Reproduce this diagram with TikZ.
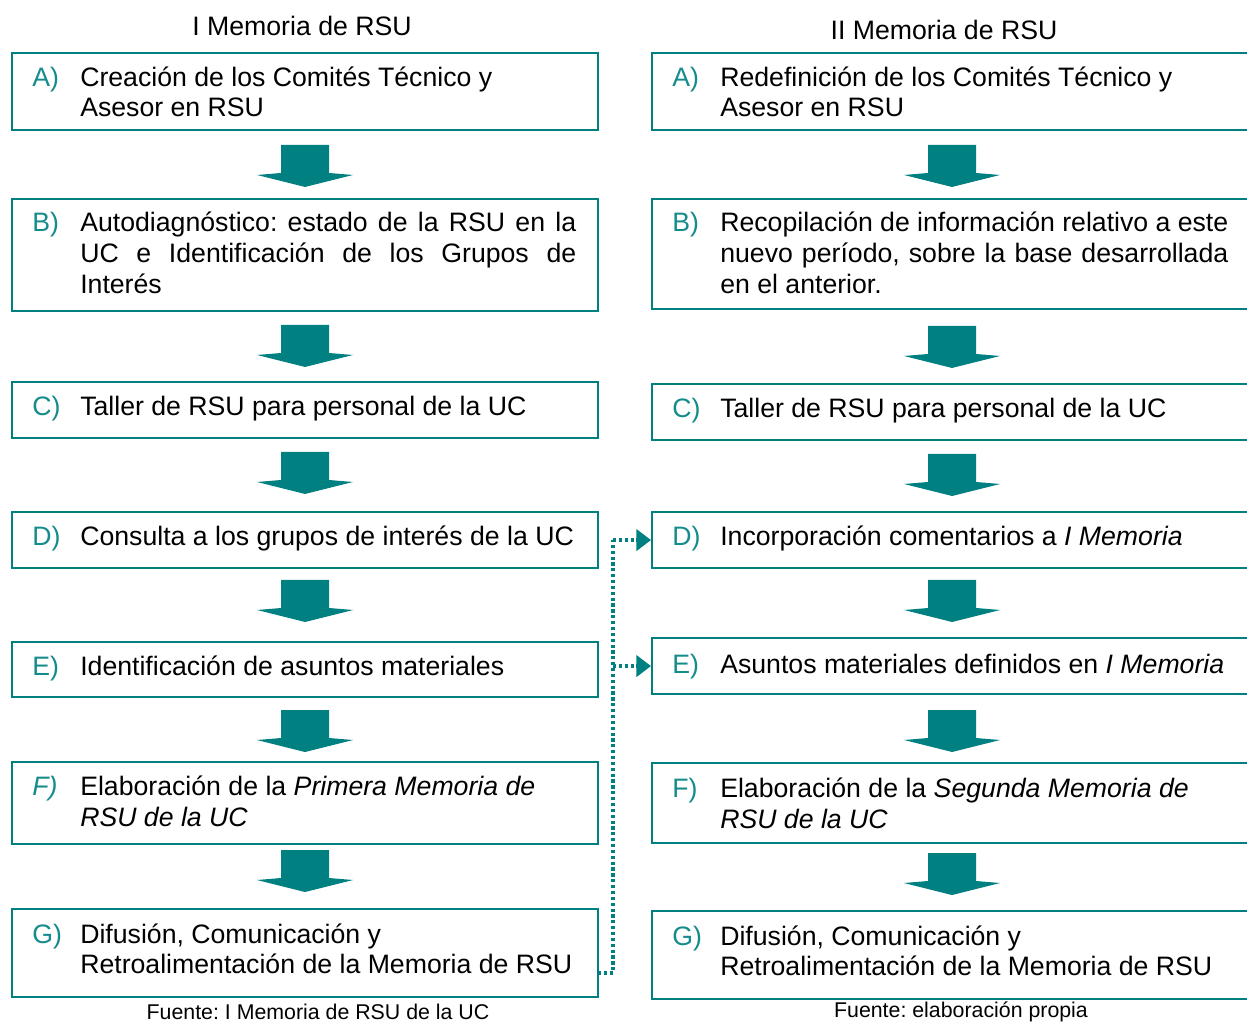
\documentclass[tikz,border=0pt]{standalone}
\usepackage{fontspec}
\setmainfont{Liberation Sans}
\usetikzlibrary{arrows.meta}
\definecolor{tealc}{RGB}{0,128,128}
\definecolor{labc}{RGB}{20,140,140}
\tikzset{
  box/.style={draw=tealc, line width=1.6pt, inner sep=0pt, anchor=north west},
  txt/.style={anchor=base west, inner sep=0pt, font=\fontsize{20pt}{24pt}\selectfont},
  lab/.style={txt, text=labc},
  ttl/.style={inner sep=0pt, font=\fontsize{20pt}{24pt}\selectfont},
  foot/.style={inner sep=0pt, font=\fontsize{16pt}{19pt}\selectfont},
  dotc/.style={draw=tealc, line width=2.5pt, dash pattern=on 2.4pt off 2pt},
  tip/.style={-{Triangle[length=11pt,width=16pt]}}
}
\newcommand\mkbox[4]{\node[box, minimum width=#3*0.75pt, minimum height=#4*0.75pt] (#1) at (#2) {};}
\newcommand\blockarrow[2]{\fill[tealc] (#1-24,#2) -- (#1+24,#2) -- (#1+24,#2+28) -- (#1+48,#2+30) -- (#1,#2+42) -- (#1-48,#2+30) -- (#1-24,#2+28) -- cycle;}
\begin{document}
\frenchspacing
\begin{tikzpicture}[x=0.75pt,y=-0.75pt]
\clip (0,0) rectangle (1247,1023);
\useasboundingbox (0,0) rectangle (1247,1023);
\fill[white] (0,0) rectangle (1247,1023);
% titles
\node[ttl] (t1) at (302,26) {I Memoria de RSU};
\node[ttl] (t2) at (944,30) {II Memoria de RSU};
% left boxes
\mkbox{LA}{11,52}{586}{77}
\mkbox{LB}{11,198}{586}{112}
\mkbox{LC}{11,381}{586}{56}
\mkbox{LD}{11,511}{586}{56}
\mkbox{LE}{11,641}{586}{55}
\mkbox{LF}{11,761}{586}{82}
\mkbox{LG}{11,908}{586}{88}
% right boxes
\mkbox{RA}{651,52}{620}{77}
\mkbox{RB}{651,198}{620}{110}
\mkbox{RC}{651,383}{620}{56}
\mkbox{RD}{651,511}{620}{56}
\mkbox{RE}{651,637}{620}{56}
\mkbox{RF}{651,762}{620}{80}
\mkbox{RG}{651,910}{620}{88}
% block arrows
\blockarrow{305}{145}
\blockarrow{305}{325}
\blockarrow{305}{452}
\blockarrow{305}{580}
\blockarrow{305}{710}
\blockarrow{305}{850}
\blockarrow{952}{145}
\blockarrow{952}{326}
\blockarrow{952}{454}
\blockarrow{952}{580}
\blockarrow{952}{710}
\blockarrow{952}{853}
% left texts
\node[lab] (laA) at (32,87) {A)};
\node[txt] (lA1) at (80,87) {Creación de los Comités Técnico y};
\node[txt] (lA2) at (80,117) {Asesor en RSU};
\node[lab] (laB) at (32,232) {B)};
\node[txt] (lB1) at (80,232) {\makebox[372pt][s]{Autodiagnóstico: estado de la RSU en la}};
\node[txt] (lB2) at (80,263) {\makebox[372pt][s]{UC e Identificación de los Grupos de}};
\node[txt] (lB3) at (80,294) {Interés};
\node[lab] (laC) at (32,416) {C)};
\node[txt] (lC1) at (80,416) {Taller de RSU para personal de la UC};
\node[lab] (laD) at (32,546) {D)};
\node[txt] (lD1) at (80,546) {Consulta a los grupos de interés de la UC};
\node[lab] (laE) at (32,675) {E)};
\node[txt] (lE1) at (80,675) {Identificación de asuntos materiales};
\node[lab] (laF) at (32,795) {\itshape F)};
\node[txt] (lF1) at (80,795) {Elaboración de la \textit{Primera Memoria de}};
\node[txt] (lF2) at (80,826) {\textit{RSU de la UC}};
\node[lab] (laG) at (32,943) {G)};
\node[txt] (lG1) at (80,943) {Difusión, Comunicación y};
\node[txt] (lG2) at (80,973) {Retroalimentación de la Memoria de RSU};
% right texts
\node[lab] (raA) at (672,87) {A)};
\node[txt] (rA1) at (720,87) {Redefinición de los Comités Técnico y};
\node[txt] (rA2) at (720,117) {Asesor en RSU};
\node[lab] (raB) at (672,232) {B)};
\node[txt] (rB1) at (720,232) {\makebox[381pt][s]{Recopilación de información relativo a este}};
\node[txt] (rB2) at (720,263) {\makebox[381pt][s]{nuevo período, sobre la base desarrollada}};
\node[txt] (rB3) at (720,294) {en el anterior.};
\node[lab] (raC) at (672,418) {C)};
\node[txt] (rC1) at (720,418) {Taller de RSU para personal de la UC};
\node[lab] (raD) at (672,546) {D)};
\node[txt] (rD1) at (720,546) {Incorporación comentarios a \textit{I Memoria}};
\node[lab] (raE) at (672,673) {E)};
\node[txt] (rE1) at (720,673) {Asuntos materiales definidos en \textit{I Memoria}};
\node[lab] (raF) at (672,797) {F)};
\node[txt] (rF1) at (720,797) {Elaboración de la \textit{Segunda Memoria de}};
\node[txt] (rF2) at (720,828) {\textit{RSU de la UC}};
\node[lab] (raG) at (672,945) {G)};
\node[txt] (rG1) at (720,945) {Difusión, Comunicación y};
\node[txt] (rG2) at (720,975) {Retroalimentación de la Memoria de RSU};
% footers
\node[foot] (f1) at (318,1012) {Fuente: I Memoria de RSU de la UC};
\node[foot] (f2) at (961,1012) {Fuente: elaboración propia};
% dotted connectors
\coordinate (gs) at (598,973);
\coordinate (jn) at (613,973);
\draw[dotc] (gs) -- (jn) -- (jn |- RD.west);
\draw[dotc, tip] (jn |- RD.west) -- (RD.west);
\draw[dotc, tip] (jn |- RE.west) -- (RE.west);
\end{tikzpicture}
\end{document}
